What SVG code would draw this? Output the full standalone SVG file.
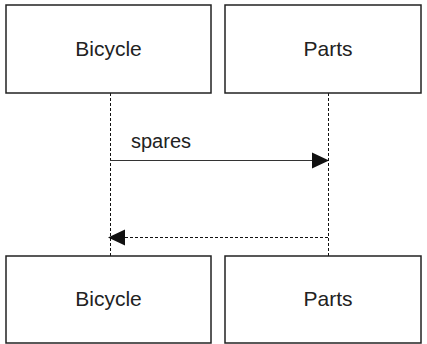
<svg xmlns="http://www.w3.org/2000/svg" width="427" height="344" viewBox="0 0 427 344">
  <style>
    .box { fill: #fff; stroke: #222; stroke-width: 1.5; }
    .lbl { font-family: "Liberation Sans", Arial, sans-serif; font-size: 21px; fill: #222; text-anchor: middle; }
    .life { stroke: #111; stroke-width: 1; stroke-dasharray: 3 2; fill: none; }
    .msg { stroke: #333; stroke-width: 1; fill: none; }
    .ret { stroke: #111; stroke-width: 1; stroke-dasharray: 3 2; fill: none; }
    .head { fill: #111; }
  </style>
  <rect width="427" height="344" fill="#fff"/>

  <!-- lifelines and messages -->
  <g id="connectors">
    <line class="life" x1="110.5" y1="93" x2="110.5" y2="256"/>
    <line class="life" x1="328.5" y1="93" x2="328.5" y2="256"/>
    <line class="msg" x1="110" y1="160.5" x2="314" y2="160.5"/>
    <polygon class="head" points="329,160.5 312,152.5 312,168.5"/>
    <text class="lbl" x="161" y="148" style="font-size:20px">spares</text>
    <line class="ret" x1="328" y1="237.5" x2="124" y2="237.5"/>
    <polygon class="head" points="108,237.5 125,229.5 125,245.5"/>
  </g>

  <g id="bicycle-top">
    <rect class="box" x="6" y="5" width="205" height="88"/>
    <text class="lbl" x="108.5" y="56">Bicycle</text>
  </g>
  <g id="parts-top">
    <rect class="box" x="225" y="5" width="196" height="88"/>
    <text class="lbl" x="328" y="56">Parts</text>
  </g>
  <g id="bicycle-bottom">
    <rect class="box" x="6" y="256" width="205" height="87"/>
    <text class="lbl" x="108.5" y="306">Bicycle</text>
  </g>
  <g id="parts-bottom">
    <rect class="box" x="225" y="256" width="196" height="87"/>
    <text class="lbl" x="328" y="306">Parts</text>
  </g>
</svg>
